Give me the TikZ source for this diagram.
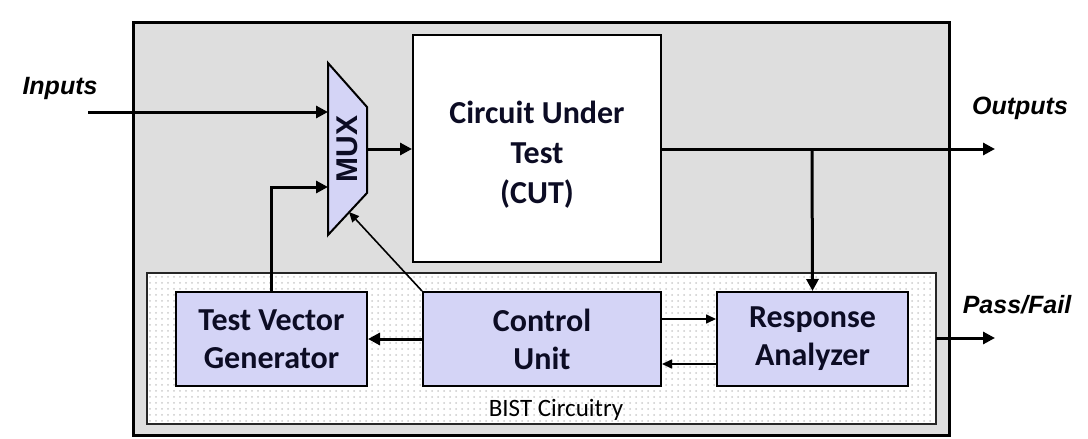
\documentclass[tikz,border=0pt]{standalone}
\usepackage{fontspec}
\setmainfont{Carlito}
\newfontfamily\arialfont{Liberation Sans}
\usetikzlibrary{arrows.meta,patterns}
\definecolor{boxfill}{RGB}{212,212,246}
\definecolor{chipgray}{RGB}{222,222,222}
\definecolor{boxtext}{RGB}{12,12,36}
\tikzset{
  blk/.style={draw, line width=1pt, fill=boxfill, text=boxtext, font=\bfseries\fontsize{16}{19}\selectfont, align=center, inner sep=0pt},
  blktext/.style={text=boxtext, font=\bfseries\fontsize{16}{20}\selectfont, align=center, inner sep=0pt},
  lbl/.style={font=\arialfont\bfseries\itshape\fontsize{12.5}{15}\selectfont},
  bus/.style={line width=1.5pt, -{Triangle[length=6pt,width=6pt]}},
  sig/.style={line width=0.8pt, -{Triangle[length=5pt,width=4.5pt]}}
}
\begin{document}
\begin{tikzpicture}[x=0.5pt,y=-0.5pt]
\useasboundingbox (0,0) rectangle (1088,439);
% chip and BIST area
\draw[line width=1.5pt, fill=chipgray] (133,22) rectangle (949,435);
\fill[white] (147,273) rectangle (936,424);
\fill[pattern=dots, pattern color=gray!40] (147,273) rectangle (936,424);
\draw[line width=1pt, draw=black!85] (147,273) rectangle (936,424);
\node[font=\fontsize{12.5}{14}\selectfont] (bist) at (556,410) {BIST Circuitry};
% blocks
\node[blk, fill=white, minimum width=124pt, minimum height=113.5pt,
  label={[blktext, yshift=-3pt]center:Circuit Under\\Test\\(CUT)}] (cut) at (537,148.5) {};
\node[blk, minimum width=95.5pt, minimum height=47pt] (tvg) at (271.5,339) {Test Vector\\Generator};
\node[blk, minimum width=119pt, minimum height=47pt] (cu) at (542,339) {Control\\Unit};
\node[blk, minimum width=95.5pt, minimum height=47pt] (ra) at (812.5,339) {Response\\Analyzer};
% multiplexer
\draw[line width=1pt, fill=boxfill] (328,63) -- (367,107) -- (367,193) -- (328,235) -- cycle;
\node[rotate=90, font=\arialfont\bfseries\fontsize{15}{17}\selectfont, text=boxtext] (mux) at (347,149) {MUX};
\coordinate (muxa) at (328,112);
\coordinate (muxb) at (328,187);
\coordinate (muxs) at (349,212);
\coordinate (muxo) at (367,149);
% outside labels
\node[lbl] (inp) at (60,88) {Inputs};
\node[lbl] (outp) at (1020,108) {Outputs};
\node[lbl] (pf) at (1017,305) {Pass/Fail};
\coordinate (inpa) at (88,112);
\coordinate (outpa) at (995,149);
\coordinate (pfa) at (995,338);
\coordinate (tap) at (812,149);
% connections
\draw[bus] (inpa) -- (muxa);
\draw[bus] (tvg.north) |- (muxb);
\draw[sig] (cu.north west) -- (muxs);
\draw[bus] (muxo) -- (muxo -| cut.west);
\draw[bus] (cut.east |- tap) -- (outpa);
\draw[bus] (tap) -- (ra.north);
\draw[bus] (cu.west) -- (tvg.east);
\draw[sig] ([yshift=10pt]cu.east) -- ([yshift=10pt]ra.west);
\draw[sig] ([yshift=-12.5pt]ra.west) -- ([yshift=-12.5pt]cu.east);
\draw[bus] (936,338) -- (pfa);
\end{tikzpicture}
\end{document}
